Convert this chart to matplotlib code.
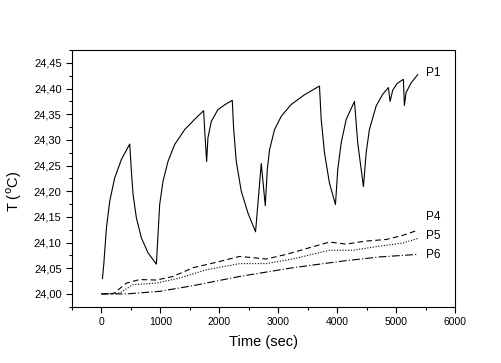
import matplotlib
matplotlib.use("Agg")
import matplotlib.pyplot as plt
from matplotlib.ticker import MultipleLocator, FuncFormatter

plt.rcParams['font.family'] = ['Liberation Sans', 'DejaVu Sans']

# P1 (solid)
p1_t = [17, 39, 85, 141, 225, 339, 480,
        508, 536, 593, 678, 790, 932,
        960, 988, 1044, 1129, 1242, 1412, 1581, 1734,
        1756, 1785,
        1807, 1864, 1976, 2100, 2220,
        2242, 2288, 2373, 2485, 2615,
        2712, 2780,
        2814, 2853, 2937, 3051, 3220, 3446, 3700,
        3729, 3785, 3869, 3971,
        4010, 4068, 4153, 4294,
        4349, 4446,
        4492, 4547, 4661, 4773, 4869,
        4898,
        4943, 5017, 5124,
        5141,
        5169, 5254, 5366]
p1_T = [24.030, 24.057, 24.129, 24.181, 24.226, 24.262, 24.292,
        24.239, 24.194, 24.148, 24.109, 24.080, 24.058,
        24.116, 24.174, 24.219, 24.258, 24.291, 24.320, 24.340, 24.357,
        24.311, 24.258,
        24.304, 24.336, 24.359, 24.369, 24.377,
        24.324, 24.258, 24.200, 24.158, 24.121,
        24.254, 24.172,
        24.242, 24.281, 24.320, 24.346, 24.369, 24.388, 24.405,
        24.340, 24.275, 24.216, 24.174,
        24.242, 24.294, 24.340, 24.375,
        24.294, 24.209,
        24.275, 24.320, 24.366, 24.389, 24.402,
        24.375,
        24.397, 24.410, 24.418,
        24.367,
        24.392, 24.411, 24.427]

# P4 (dashed)
p4_t = [0, 197, 424, 649, 932, 1214, 1553, 1892, 2344, 2797, 3136, 3531, 3869, 4153, 4492, 4831, 5112, 5366]
p4_T = [24.000, 24.000, 24.021, 24.028, 24.027, 24.034, 24.051, 24.060, 24.073, 24.068, 24.077, 24.090, 24.101, 24.097, 24.103, 24.106, 24.114, 24.124]

# P5 (dotted)
p5_t = [0, 310, 536, 932, 1327, 1780, 2344, 2797, 3247, 3869, 4264, 4717, 5112, 5366]
p5_T = [24.000, 24.002, 24.018, 24.021, 24.031, 24.047, 24.059, 24.059, 24.068, 24.085, 24.085, 24.093, 24.099, 24.108]

# P6 (dash-dot)
p6_t = [0, 424, 988, 1553, 2344, 3247, 4095, 4717, 5366]
p6_T = [24.000, 24.000, 24.005, 24.016, 24.034, 24.051, 24.064, 24.072, 24.077]

labels = ['P1', 'P4', 'P5', 'P6']

fig = plt.figure(figsize=(5.02, 3.63), dpi=100)
ax = fig.add_axes([0.1434, 0.155, 0.763, 0.707])

lw = 0.8
ax.plot(p1_t, p1_T, color='black', lw=lw, ls='-')
ax.plot(p4_t, p4_T, color='black', lw=lw, ls=(0, (5, 3)))
ax.plot(p5_t, p5_T, color='black', lw=lw, ls=(0, (1, 1.5)))
ax.plot(p6_t, p6_T, color='black', lw=lw, ls=(0, (7, 2, 1, 2)))

ends = [(p1_t[-1], p1_T[-1]), (p4_t[-1], p4_T[-1]), (p5_t[-1], p5_T[-1]), (p6_t[-1], p6_T[-1])]
offs = [0.004, 0.026, 0.004, -0.002]
for lab, (tx, ty), o in zip(labels, ends, offs):
    ax.text(tx + 150, ty + o, lab, fontsize=8.5, va='center', ha='left')

ax.set_xlim(-500, 6000)
ax.set_ylim(23.975, 24.475)
ax.xaxis.set_major_locator(MultipleLocator(1000))
ax.xaxis.set_minor_locator(MultipleLocator(500))
ax.yaxis.set_major_locator(MultipleLocator(0.05))
ax.yaxis.set_minor_locator(MultipleLocator(0.025))
ax.yaxis.set_major_formatter(FuncFormatter(lambda v, p: f"{v:.2f}".replace('.', ',')))
ax.xaxis.set_major_formatter(FuncFormatter(lambda v, p: f"{int(round(v))}"))

ax.tick_params(which='major', direction='out', length=4, width=0.8, top=False, right=False)
ax.tick_params(axis='y', which='major', labelsize=8)
ax.tick_params(axis='x', which='major', labelsize=7.5)
ax.tick_params(which='minor', direction='out', length=2.5, width=0.8, top=False, right=False)
for s in ax.spines.values():
    s.set_linewidth(0.8)

ax.set_xlabel('Time (sec)', fontsize=10.5, labelpad=6)
ax.set_ylabel('T ($^{\\rm o}$C)', fontsize=10.5)
ax.yaxis.set_label_coords(-0.125, 0.45)

fig.savefig('out.png', dpi=100)
